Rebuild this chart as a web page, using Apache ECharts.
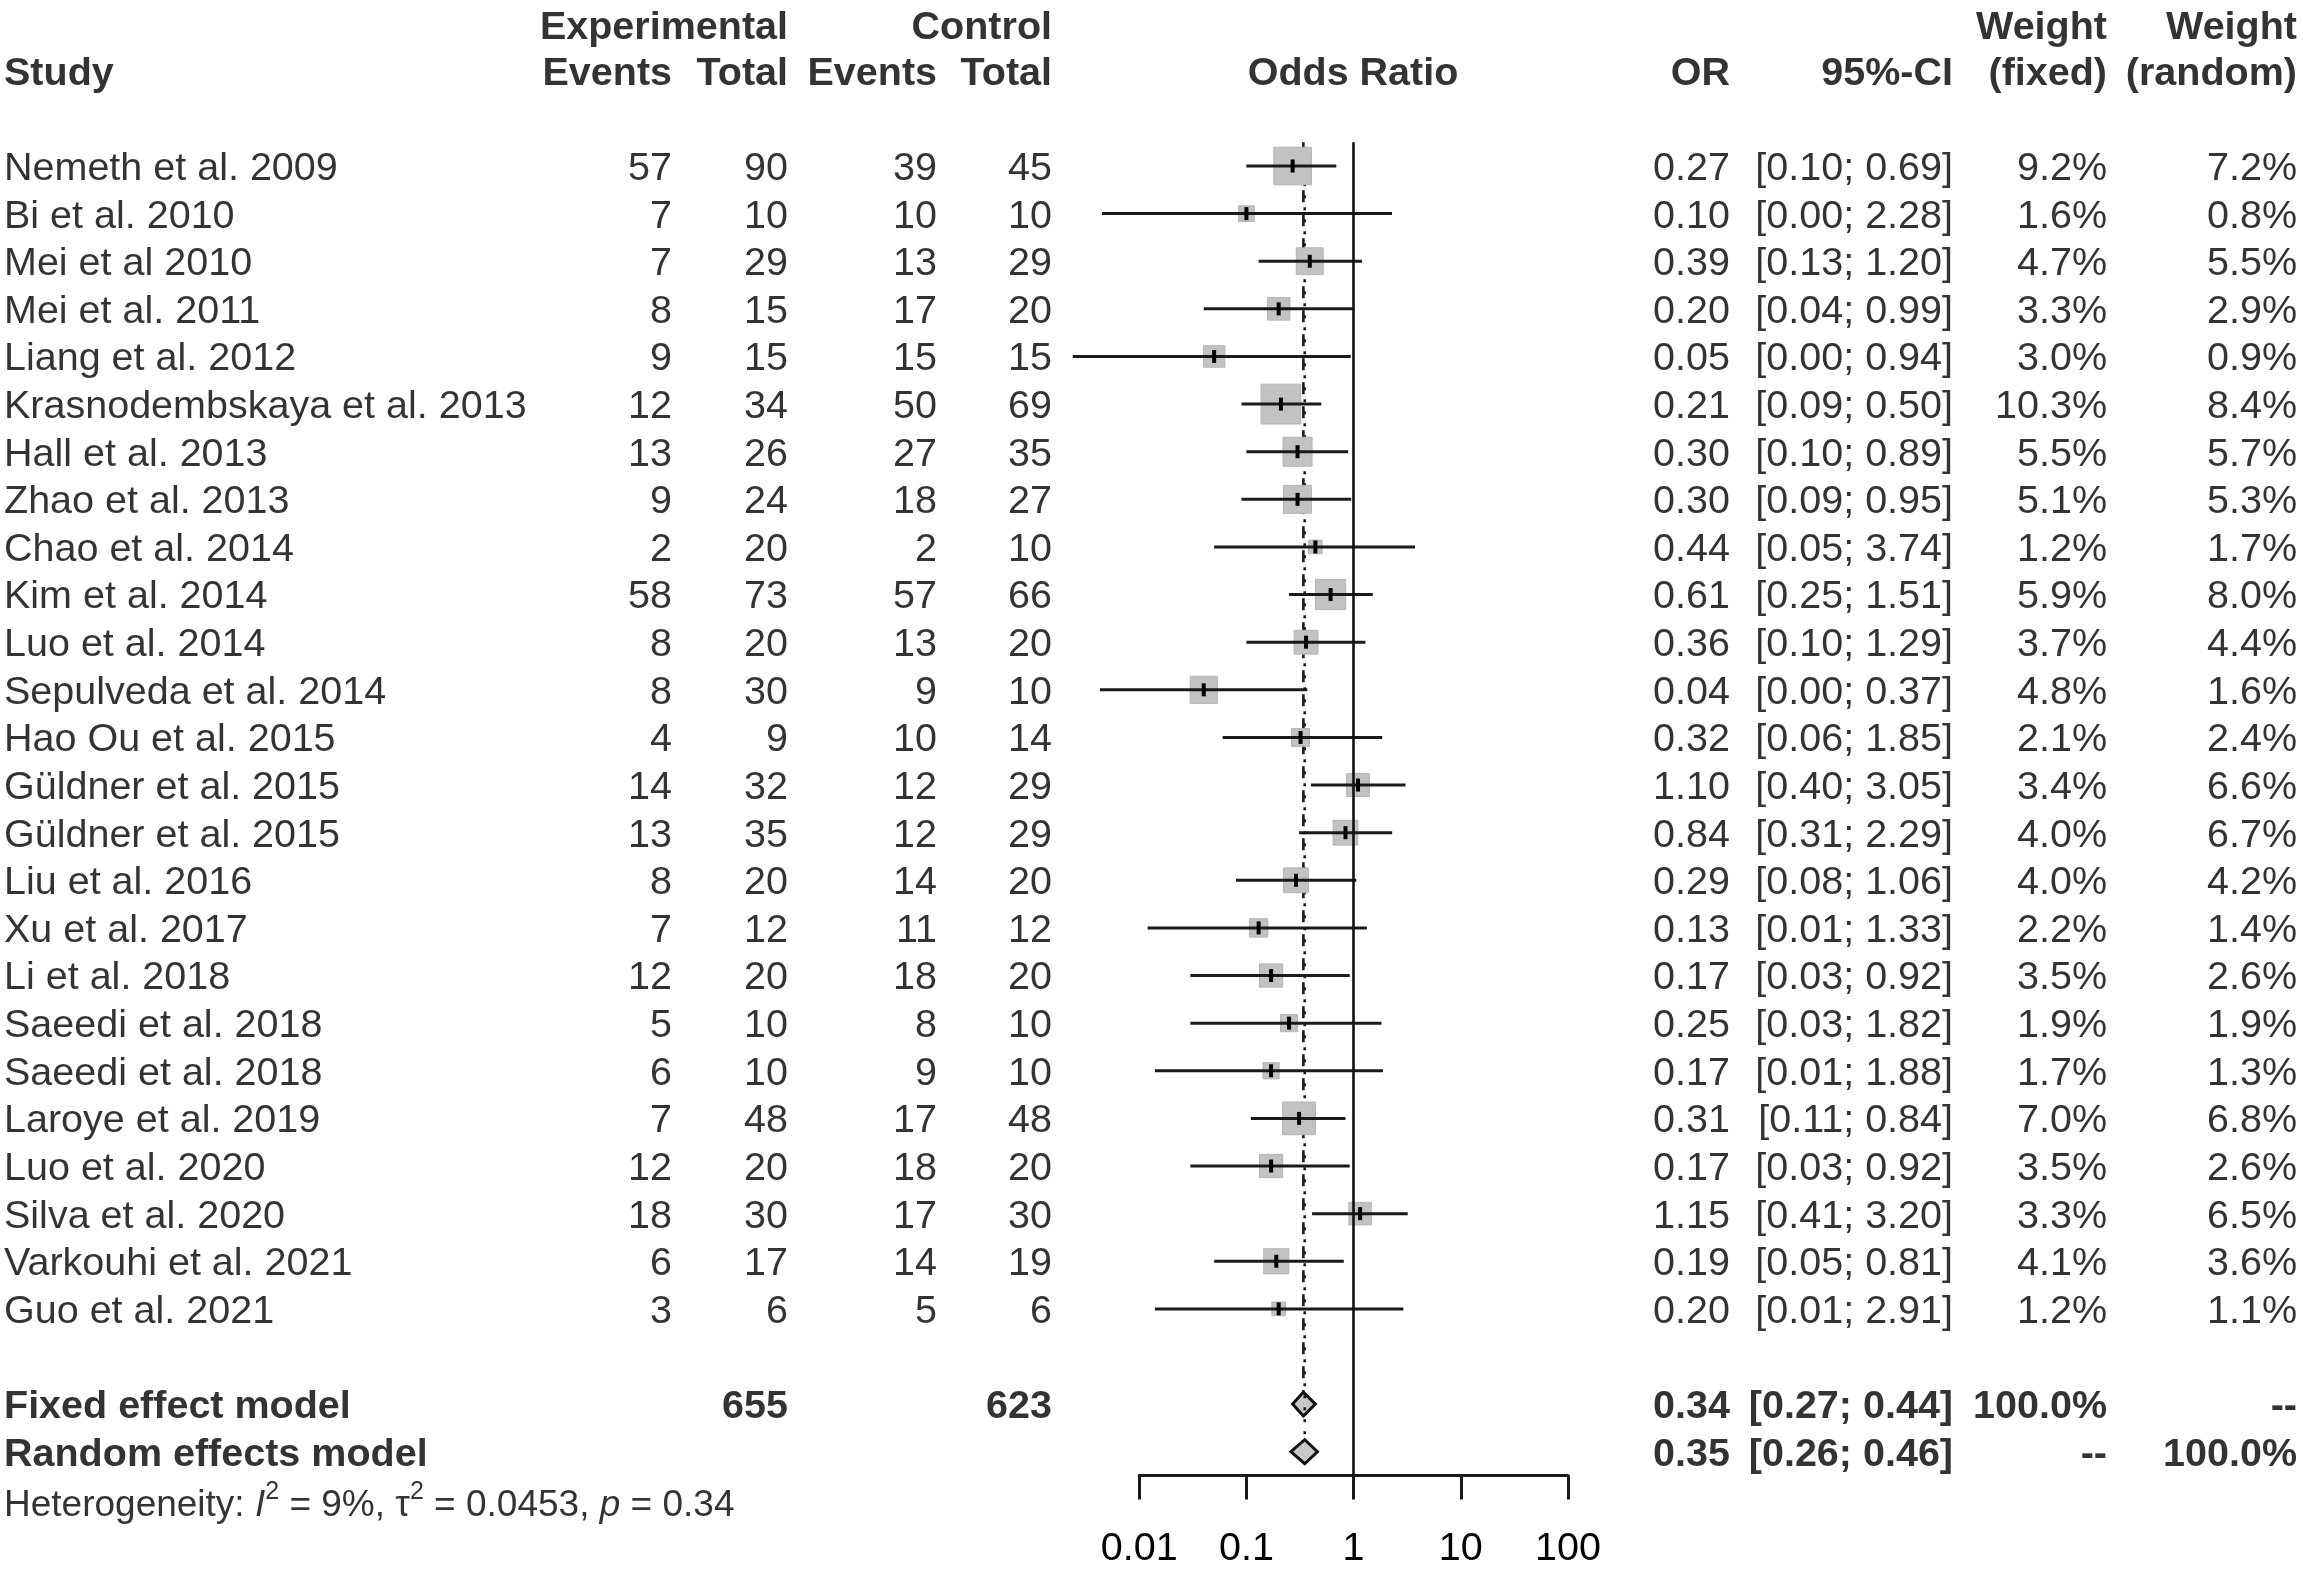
<!DOCTYPE html>
<html>
<head>
<meta charset="utf-8">
<title>Forest plot</title>
<script src="https://cdn.jsdelivr.net/npm/echarts@6/dist/echarts.min.js"></script>
<style>
html,body{margin:0;padding:0;background:#fff;}
#chart{width:2303px;height:1578px;}
</style>
</head>
<body>
<div id="chart"></div>
<script>
// ---------------- data ----------------
const studies = ['Nemeth et al. 2009','Bi et al. 2010','Mei et al 2010','Mei et al. 2011','Liang et al. 2012',
  'Krasnodembskaya et al. 2013','Hall et al. 2013','Zhao et al. 2013','Chao et al. 2014','Kim et al. 2014',
  'Luo et al. 2014','Sepulveda et al. 2014','Hao Ou et al. 2015','Güldner et al. 2015','Güldner et al. 2015',
  'Liu et al. 2016','Xu et al. 2017','Li et al. 2018','Saeedi et al. 2018','Saeedi et al. 2018',
  'Laroye et al. 2019','Luo et al. 2020','Silva et al. 2020','Varkouhi et al. 2021','Guo et al. 2021'];
const expEvents  = [57,7,7,8,9,12,13,9,2,58,8,8,4,14,13,8,7,12,5,6,7,12,18,6,3];
const expTotal   = [90,10,29,15,15,34,26,24,20,73,20,30,9,32,35,20,12,20,10,10,48,20,30,17,6];
const ctrlEvents = [39,10,13,17,15,50,27,18,2,57,13,9,10,12,12,14,11,18,8,9,17,18,17,14,5];
const ctrlTotal  = [45,10,29,20,15,69,35,27,10,66,20,10,14,29,29,20,12,20,10,10,48,20,30,19,6];
const orValues   = [0.27,0.10,0.39,0.20,0.05,0.21,0.30,0.30,0.44,0.61,0.36,0.04,0.32,1.10,0.84,0.29,0.13,0.17,0.25,0.17,0.31,0.17,1.15,0.19,0.20];
// lower limits shown as 0.00 / 0.01 are estimated from the drawn line ends
const ciLower    = [0.10,0.0045,0.13,0.04,0.0024,0.09,0.10,0.09,0.05,0.25,0.10,0.0043,0.06,0.40,0.31,0.08,0.012,0.03,0.03,0.014,0.11,0.03,0.41,0.05,0.014];
const ciUpper    = [0.69,2.28,1.20,0.99,0.94,0.50,0.89,0.95,3.74,1.51,1.29,0.37,1.85,3.05,2.29,1.06,1.33,0.92,1.82,1.88,0.84,0.92,3.20,0.81,2.91];
const weightFixed  = [9.2,1.6,4.7,3.3,3.0,10.3,5.5,5.1,1.2,5.9,3.7,4.8,2.1,3.4,4.0,4.0,2.2,3.5,1.9,1.7,7.0,3.5,3.3,4.1,1.2];
const weightRandom = [7.2,0.8,5.5,2.9,0.9,8.4,5.7,5.3,1.7,8.0,4.4,1.6,2.4,6.6,6.7,4.2,1.4,2.6,1.9,1.3,6.8,2.6,6.5,3.6,1.1];

const pooledNames  = ['Fixed effect model','Random effects model'];
const pooledOR     = [0.34,0.35];
const pooledLower  = [0.27,0.26];
const pooledUpper  = [0.44,0.46];
const pooledWFixed = ['100.0%','--'];
const pooledWRandom= ['--','100.0%'];
const totalsExp  = 655;
const totalsCtrl = 623;
const hetI2 = '9%', hetTau2 = '0.0453', hetP = '0.34';

const axisMin = 0.01, axisMax = 100;

// ---------------- layout ----------------
const W = 2303;
const ROW0 = 166, ROWH = 47.62;
const GRID_TOP = ROW0 - 0.5 * ROWH;
const GRID_H = 28 * ROWH;
const Y_MIN = -0.5, Y_MAX = 27.5;
const PLOT_LEFT = 1139.2, PLOT_W = 428.8;
const COL = {study:4, expEv:672, expTot:788, ctrlEv:937, ctrlTot:1052, odds:1353, or:1730, ci:1953, wf:2107, wr:2297};
const TXT_DY = 3 / ROWH;              // text baseline nudge
const HEAD1 = -2.96 + TXT_DY, HEAD2 = -2.06 + 2 * TXT_DY;
const ROW_FIXED = 26, ROW_RANDOM = 27, ROW_HET = 28.08 + TXT_DY;
const FONT = 'Liberation Sans, Arial, Helvetica, sans-serif';
const FS = 39.5;
const HFS = 37;
const SQ = 12.4;

// ---------------- text cells ----------------
const f2 = v => v.toFixed(2);
const ciText = (lo, hi) => '[' + f2(lo) + '; ' + f2(hi) + ']';
const cells = [];
function cell(x, row, text, pos, bold) {
  cells.push({value:[x, row], label:{formatter: String(text), position: pos, fontWeight: bold ? 'bold' : 'normal'}});
}
// header
cell(COL.study, HEAD2, 'Study', 'right', true);
cell(COL.expTot, HEAD1, 'Experimental', 'left', true);
cell(COL.ctrlTot, HEAD1, 'Control', 'left', true);
cell(COL.expEv, HEAD2, 'Events', 'left', true);
cell(COL.expTot, HEAD2, 'Total', 'left', true);
cell(COL.ctrlEv, HEAD2, 'Events', 'left', true);
cell(COL.ctrlTot, HEAD2, 'Total', 'left', true);
cell(COL.odds, HEAD2, 'Odds Ratio', 'inside', true);
cell(COL.or, HEAD2, 'OR', 'left', true);
cell(COL.ci, HEAD2, '95%-CI', 'left', true);
cell(COL.wf, HEAD1, 'Weight', 'left', true);
cell(COL.wr, HEAD1, 'Weight', 'left', true);
cell(COL.wf, HEAD2, '(fixed)', 'left', true);
cell(COL.wr, HEAD2, '(random)', 'left', true);
// studies
studies.forEach((s, i) => {
  const r = i + TXT_DY;
  cell(COL.study, r, s, 'right', false);
  cell(COL.expEv, r, expEvents[i], 'left', false);
  cell(COL.expTot, r, expTotal[i], 'left', false);
  cell(COL.ctrlEv, r, ctrlEvents[i], 'left', false);
  cell(COL.ctrlTot, r, ctrlTotal[i], 'left', false);
  cell(COL.or, r, f2(orValues[i]), 'left', false);
  cell(COL.ci, r, ciText(ciLower[i], ciUpper[i]), 'left', false);
  cell(COL.wf, r, weightFixed[i].toFixed(1) + '%', 'left', false);
  cell(COL.wr, r, weightRandom[i].toFixed(1) + '%', 'left', false);
});
// pooled
const pooledRows = [ROW_FIXED, ROW_RANDOM];
pooledNames.forEach((n, k) => {
  const r = pooledRows[k] + TXT_DY;
  cell(COL.study, r, n, 'right', true);
  cell(COL.or, r, f2(pooledOR[k]), 'left', true);
  cell(COL.ci, r, ciText(pooledLower[k], pooledUpper[k]), 'left', true);
  cell(COL.wf, r, pooledWFixed[k], 'left', true);
  cell(COL.wr, r, pooledWRandom[k], 'left', true);
});
cell(COL.expTot, ROW_FIXED + TXT_DY, totalsExp, 'left', true);
cell(COL.ctrlTot, ROW_FIXED + TXT_DY, totalsCtrl, 'left', true);

// ---------------- chart ----------------
const studyData = studies.map((s, i) => [orValues[i], i, ciLower[i], ciUpper[i], weightFixed[i]]);
const pooledData = pooledOR.map((v, k) => [v, pooledRows[k], pooledLower[k], pooledUpper[k], k]);

const chart = echarts.init(document.getElementById('chart'), null, {renderer:'canvas'});
chart.setOption({
  animation: false,
  backgroundColor: '#fff',
  textStyle: {fontFamily: FONT},
  grid: [
    {left: PLOT_LEFT, width: PLOT_W, top: GRID_TOP, height: GRID_H},
    {left: 0, width: W, top: GRID_TOP, height: GRID_H}
  ],
  xAxis: [
    {type:'log', logBase:10, min:axisMin, max:axisMax, splitNumber:4, gridIndex:0, position:'bottom',
     axisLine:{show:true, onZero:false, lineStyle:{color:'#1a1a1a', width:3}},
     axisTick:{show:true, inside:false, length:24, lineStyle:{color:'#1a1a1a', width:3}},
     axisLabel:{show:true, margin:54, fontSize:FS, color:'#000', fontFamily:FONT,
       formatter: v => String(+Number(v).toPrecision(2))},
     splitLine:{show:false}},
    {type:'value', min:0, max:W, gridIndex:1, show:false}
  ],
  yAxis: [
    {type:'value', inverse:true, min:Y_MIN, max:Y_MAX, gridIndex:0, show:false},
    {type:'value', inverse:true, min:Y_MIN, max:Y_MAX, gridIndex:1, show:false}
  ],
  series: [
    {
      type:'custom', name:'pooled', xAxisIndex:0, yAxisIndex:0, clip:false, silent:true, z:2,
      data: pooledData,
      encode:{x:0, y:1},
      renderItem: function (params, api) {
        const v = api.value(0), r = api.value(1), lo = api.value(2), hi = api.value(3), k = api.value(4);
        const c = api.coord([v, r]);
        const top = api.coord([v, Y_MIN]);
        const pl = api.coord([lo, r]);
        const ph = api.coord([hi, r]);
        const h = 12;
        const dash = k === 0 ? {lineDash:[12,12]} : {lineDash:[3,9], lineDashOffset:-5};
        return {type:'group', children:[
          {type:'line', shape:{x1:c[0], y1:top[1], x2:c[0], y2:c[1]-h},
           style:Object.assign({stroke:'#1a1a1a', lineWidth:2.6}, dash)},
          {type:'polygon', shape:{points:[[pl[0],c[1]],[c[0],c[1]-h],[ph[0],c[1]],[c[0],c[1]+h]]},
           style:{fill:'#c8c8c8', stroke:'#111', lineWidth:3}}
        ]};
      },
      markLine: {
        silent:true, symbol:'none', label:{show:false},
        lineStyle:{color:'#111', width:2.6, type:'solid'},
        data:[{xAxis:1}]
      }
    },
    {
      type:'custom', name:'studies', xAxisIndex:0, yAxisIndex:0, clip:false, silent:true, z:3,
      data: studyData,
      encode:{x:0, y:1},
      renderItem: function (params, api) {
        const v = api.value(0), r = api.value(1), lo = api.value(2), hi = api.value(3), w = api.value(4);
        const c = api.coord([v, r]);
        const pl = api.coord([lo, r]);
        const ph = api.coord([hi, r]);
        const s = SQ * Math.sqrt(w);
        return {type:'group', children:[
          {type:'rect', shape:{x:c[0]-s/2, y:c[1]-s/2, width:s, height:s},
           style:{fill:'#c2c2c2', stroke:'#b4b4b4', lineWidth:1}},
          {type:'line', shape:{x1:pl[0], y1:pl[1], x2:ph[0], y2:ph[1]},
           style:{stroke:'#1a1a1a', lineWidth:3}},
          {type:'rect', shape:{x:c[0]-2, y:c[1]-6.5, width:4, height:13},
           style:{fill:'#000'}}
        ]};
      }
    },
    {
      type:'scatter', name:'cells', xAxisIndex:1, yAxisIndex:1, clip:false, silent:true,
      symbolSize:0, z:5,
      data: cells,
      label:{show:true, distance:0, fontSize:FS, color:'#000', fontFamily:FONT}
    },
    {
      type:'scatter', name:'heterogeneity', xAxisIndex:1, yAxisIndex:1, clip:false, silent:true,
      symbolSize:0, z:5,
      data:[[COL.study, ROW_HET]],
      label:{show:true, position:'right', distance:0, fontSize:HFS, color:'#000', fontFamily:FONT,
        formatter: 'Heterogeneity: {i|I}{sup|2} = ' + hetI2 + ', τ{sup|2} = ' + hetTau2 + ', {i|p} = ' + hetP,
        rich:{
          i:{fontStyle:'italic', fontSize:HFS, fontFamily:FONT, color:'#000', lineHeight:54},
          sup:{fontSize:25, fontFamily:FONT, color:'#000', verticalAlign:'top', lineHeight:25}
        },
        lineHeight:54}
    }
  ]
});
</script>
</body>
</html>
